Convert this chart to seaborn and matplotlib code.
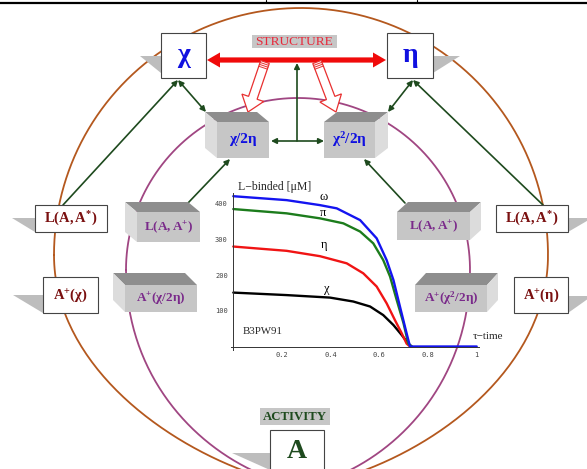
import matplotlib
matplotlib.use("Agg")
import numpy as np
import pandas as pd
import matplotlib.pyplot as plt
from matplotlib import patches
from matplotlib.ticker import FixedLocator, FixedFormatter, MultipleLocator
import seaborn as sns

# ---- binding curves, B3PW91 (tau, L-binded in uM) ----
tau_chi = [0, 0.219, 0.397, 0.493, 0.562, 0.616, 0.658, 0.692, 0.719, 0.733]
L_chi = [151, 144, 137, 126, 112, 88, 60, 32, 8, 0]
tau_eta = [0, 0.219, 0.356, 0.466, 0.534, 0.589, 0.630, 0.664, 0.692, 0.712, 0.726]
L_eta = [280, 268, 253, 233, 205, 168, 121, 74, 37, 8, 0]
tau_pi = [0, 0.219, 0.356, 0.452, 0.521, 0.575, 0.616, 0.644, 0.671, 0.699, 0.719, 0.733]
L_pi = [385, 373, 359, 345, 322, 289, 242, 196, 131, 66, 8, 0]
tau_omega = [0, 0.219, 0.356, 0.425, 0.521, 0.589, 0.630, 0.658, 0.685, 0.712, 0.726, 1.0]
L_omega = [421, 410, 396, 387, 354, 303, 242, 186, 111, 37, 0, 0]

series_names = ["χ", "η", "π", "ω"]
series_colors = ["#000000", "#F01414", "#1C7C1C", "#1414F0"]
label_pos = [(0.384, 160), (0.373, 284), (0.37, 374), (0.37, 418)]

x_ticks = [0.2, 0.4, 0.6, 0.8, 1.0]
x_tick_labels = ["0.2", "0.4", "0.6", "0.8", "1"]
y_ticks = [100, 200, 300, 400]
y_tick_labels = ["100", "200", "300", "400"]

sns.set_style("white")
plt.rcParams["font.family"] = ["Liberation Serif", "DejaVu Serif"]
plt.rcParams["mathtext.fontset"] = "custom"
plt.rcParams["mathtext.rm"] = "Liberation Serif"
plt.rcParams["mathtext.bf"] = "Liberation Serif:bold"
plt.rcParams["mathtext.it"] = "Liberation Serif:italic"

W, H = 587, 469
fig = plt.figure(figsize=(W / 100, H / 100), dpi=100)
fig.patch.set_facecolor("white")
ax = fig.add_axes([0, 0, 1, 1])
ax.set_xlim(0, W)
ax.set_ylim(H, 0)
ax.axis("off")

GREEN = "#1E4A1E"
BROWN = "#B4581E"
PURPLE = "#A04682"
DARKRED = "#7A1010"
VIOLET = "#7A2A8A"
BLUE = "#1010E0"


def bezier(p0, p1, p2, p3, n=80):
    t = np.linspace(0, 1, n)[:, None]
    p0, p1, p2, p3 = map(np.asarray, (p0, p1, p2, p3))
    return ((1 - t) ** 3) * p0 + 3 * ((1 - t) ** 2) * t * p1 + 3 * (1 - t) * t ** 2 * p2 + t ** 3 * p3


def ring(cx, cy, r, bottom, c_side, c_low_l, c_low_r, color):
    th = np.linspace(np.pi, 2 * np.pi, 200)
    upper = np.column_stack([cx + r * np.cos(th), cy + r * np.sin(th)])
    low_r = bezier((cx + r, cy), (cx + r, c_side), c_low_r, bottom)
    low_l = bezier(bottom, c_low_l, (cx - r, c_side), (cx - r, cy))
    pts = np.vstack([upper, low_r, low_l])
    ax.plot(pts[:, 0], pts[:, 1], color=color, lw=1.3, zorder=1)


# two enclosing rings
ring(301, 255, 247, (303, 487), 380, (200, 470), (410, 470), BROWN)
ring(298, 270, 172, (302, 487), 390, (215, 470), (385, 470), PURPLE)

# header rule
ax.plot([0, W], [3.5, 3.5], color="black", lw=1.6, zorder=5)
ax.plot([266, 266], [0, 3.5], color="black", lw=0.8, zorder=5)
ax.plot([417, 417], [0, 3.5], color="black", lw=0.8, zorder=5)


def shadow(tip_x, y_top, edge_x, y_bot):
    ax.add_patch(patches.Polygon([(tip_x, y_top), (edge_x, y_top), (edge_x, y_bot)],
                                 closed=True, fc="#BDBDBD", ec="none", zorder=2))


def white_box(x0, y0, x1, y1, text, color, size):
    ax.add_patch(patches.Rectangle((x0, y0), x1 - x0, y1 - y0, fc="white",
                                   ec="#444444", lw=0.8, zorder=3))
    ax.text((x0 + x1) / 2, (y0 + y1) / 2, text, color=color, fontsize=size,
            fontweight="bold", ha="center", va="center", zorder=4)


def box3d(x0, y0, x1, y1, d, h, text, color, size):
    ax.add_patch(patches.Rectangle((x0, y0), x1 - x0, y1 - y0, fc="#C6C6C6",
                                   ec="none", zorder=3))
    if d > 0:
        top = [(x0 - d, y0 - h), (x1 - d, y0 - h), (x1, y0), (x0, y0)]
        side = [(x0 - d, y0 - h), (x0, y0), (x0, y1), (x0 - d, y1 - h)]
    else:
        e = -d
        top = [(x0 + e, y0 - h), (x1 + e, y0 - h), (x1, y0), (x0, y0)]
        side = [(x1, y0), (x1 + e, y0 - h), (x1 + e, y1 - h), (x1, y1)]
    ax.add_patch(patches.Polygon(top, closed=True, fc="#8E8E8E", ec="none", zorder=3))
    ax.add_patch(patches.Polygon(side, closed=True, fc="#DCDCDC", ec="none", zorder=3))
    ax.text((x0 + x1) / 2, (y0 + y1) / 2, text, color=color, fontsize=size,
            fontweight="bold", ha="center", va="center", zorder=4)


def arrow(tail, head, both=False, lw=1.2):
    ax.annotate("", xy=head, xytext=tail, zorder=2,
                arrowprops=dict(arrowstyle="<|-|>" if both else "-|>", color=GREEN,
                                lw=lw, mutation_scale=8, shrinkA=0, shrinkB=0))


# green connectors
arrow((63, 205), (178, 80))
arrow((543, 205), (413, 80))
arrow((178, 80), (206, 112), both=True)
arrow((413, 80), (388, 112), both=True)
arrow((188, 203), (230, 159))
arrow((405, 203), (364, 159))
arrow((297, 141), (297, 63))
arrow((271, 141), (324, 141), both=True)

# red double arrow between the descriptors
shaft = 2.6
hw = 7.5
hl = 13
xa, xb, yr = 207, 386, 60
red_arrow = [(xa, yr), (xa + hl, yr - hw), (xa + hl, yr - shaft), (xb - hl, yr - shaft),
             (xb - hl, yr - hw), (xb, yr), (xb - hl, yr + hw), (xb - hl, yr + shaft),
             (xa + hl, yr + shaft), (xa + hl, yr + hw)]
ax.add_patch(patches.Polygon(red_arrow, closed=True, fc="#F00A0A", ec="none", zorder=3))


def hollow_arrow(tail, tip):
    tx, ty = tail
    dx, dy = tip[0] - tx, tip[1] - ty
    ax.add_patch(patches.FancyArrow(tx, ty, dx, dy, width=9, head_width=23, head_length=15,
                                    length_includes_head=True, fc="white", ec="#E83030",
                                    lw=0.9, zorder=3))
    L = np.hypot(dx, dy)
    ux, uy = dx / L, dy / L
    px, py = -uy, ux
    for s in (2.0, 4.0, 6.0):
        cx, cy = tx + ux * s, ty + uy * s
        ax.plot([cx - px * 4.5, cx + px * 4.5], [cy - py * 4.5, cy + py * 4.5],
                color="#E83030", lw=0.7, zorder=4)


hollow_arrow((265, 62), (248, 112))
hollow_arrow((317, 62), (336, 112))

# descriptor boxes
shadow(140, 56, 161, 73)
white_box(161, 33, 206, 78, "χ", BLUE, 20)
shadow(460, 56, 433, 73)
white_box(387, 33, 433, 78, "η", BLUE, 20)

ax.add_patch(patches.Rectangle((252, 35), 85, 13, fc="#C6C6C6", ec="none", zorder=3))
ax.text(294.5, 41.8, "STRUCTURE", color="#E8283A", fontsize=9.6, ha="center",
        va="center", zorder=4)

box3d(217, 122, 269, 158, 12, 10, "χ/2η", BLUE, 11)
box3d(324, 122, 375, 158, -13, 10, r"$\mathbf{χ^{2}/2η}$", BLUE, 11)

# outer row of boxes
shadow(12, 218, 35, 232)
white_box(35, 205, 107, 232, r"$\mathbf{L(A,A^{*})}$", DARKRED, 10.5)
shadow(13, 295, 43, 313)
white_box(43, 277, 98, 313, r"$\mathbf{A^{+}(χ)}$", DARKRED, 10.5)
shadow(592, 218, 568, 232)
white_box(496, 205, 568, 232, r"$\mathbf{L(A,A^{*})}$", DARKRED, 10.5)
shadow(592, 296, 568, 313)
white_box(514, 277, 568, 313, r"$\mathbf{A^{+}(η)}$", DARKRED, 10.5)

# inner row of boxes
box3d(137, 212, 200, 242, 12, 10, r"$\mathbf{L(A,A^{+})}$", VIOLET, 9.5)
box3d(125, 285, 197, 312, 12, 12, r"$\mathbf{A^{+}(χ/2η)}$", VIOLET, 9.5)
box3d(397, 212, 470, 240, -11, 10, r"$\mathbf{L(A,A^{+})}$", VIOLET, 9.5)
box3d(415, 285, 487, 312, -11, 12, r"$\mathbf{A^{+}(χ^{2}/2η)}$", VIOLET, 9.5)

# activity
ax.add_patch(patches.Rectangle((260, 408), 70, 17, fc="#C6C6C6", ec="none", zorder=3))
ax.text(295, 417, "ACTIVITY", color=GREEN, fontsize=9.2, fontweight="bold",
        ha="center", va="center", zorder=4)
shadow(232, 453, 270, 470)
ax.add_patch(patches.Rectangle((270, 430), 54, 45, fc="white", ec="#444444", lw=0.8, zorder=3))
ax.text(297, 452, "A", color=GREEN, fontsize=20, fontweight="bold", ha="center",
        va="center", zorder=4)

# ---- inner chart ----
x0px, x1px = 233.3, 476.7
y0px, ypx = 346.5, 0.357
xlim = (-0.01, 1.01)
ylim = (-10, 430)
left = x0px + xlim[0] * (x1px - x0px)
right = x0px + xlim[1] * (x1px - x0px)
top = y0px - ylim[1] * ypx
bottom = y0px - ylim[0] * ypx
axc = fig.add_axes([left / W, 1 - bottom / H, (right - left) / W, (bottom - top) / H])
axc.patch.set_alpha(0)

taus = [tau_chi, tau_eta, tau_pi, tau_omega]
vals = [L_chi, L_eta, L_pi, L_omega]
df = pd.concat([pd.DataFrame({"tau": t, "L": v, "series": n})
                for t, v, n in zip(taus, vals, series_names)], ignore_index=True)
sns.lineplot(data=df, x="tau", y="L", hue="series", hue_order=series_names,
             palette=series_colors, estimator=None, linewidth=1.7, legend=False, ax=axc)

axc.set_xlim(*xlim)
axc.set_ylim(*ylim)
axc.spines["left"].set_position(("data", 0))
axc.spines["bottom"].set_position(("data", 0))
axc.spines["top"].set_visible(False)
axc.spines["right"].set_visible(False)
for s in ("left", "bottom"):
    axc.spines[s].set_color("#333333")
    axc.spines[s].set_linewidth(0.7)
axc.xaxis.set_major_locator(FixedLocator(x_ticks))
axc.xaxis.set_major_formatter(FixedFormatter(x_tick_labels))
axc.yaxis.set_major_locator(FixedLocator(y_ticks))
axc.yaxis.set_major_formatter(FixedFormatter(y_tick_labels))
axc.xaxis.set_minor_locator(MultipleLocator(0.05))
axc.yaxis.set_minor_locator(MultipleLocator(20))
axc.tick_params(which="major", direction="inout", length=4, width=0.6, color="#444444",
                labelsize=5, labelcolor="#444444", pad=2)
axc.tick_params(which="minor", direction="inout", length=2, width=0.5, color="#666666")
for lab in axc.get_xticklabels() + axc.get_yticklabels():
    lab.set_family("DejaVu Sans Mono")
axc.set_xlabel("")
axc.set_ylabel("")

for name, color, (lx, ly) in zip(series_names, series_colors, label_pos):
    axc.text(lx, ly, name, fontsize=9, color="black", ha="center", va="center")
axc.text(0.02, 447, "L\u2212binded [μM]", fontsize=8.5, ha="left", va="center", clip_on=False)
axc.text(0.04, 42, "B3PW91", fontsize=7.8, ha="left", va="center")
axc.text(0.985, 27, "τ\u2212time", fontsize=8, ha="left", va="center", clip_on=False)

fig.savefig("out.png", dpi=100, facecolor="white")
